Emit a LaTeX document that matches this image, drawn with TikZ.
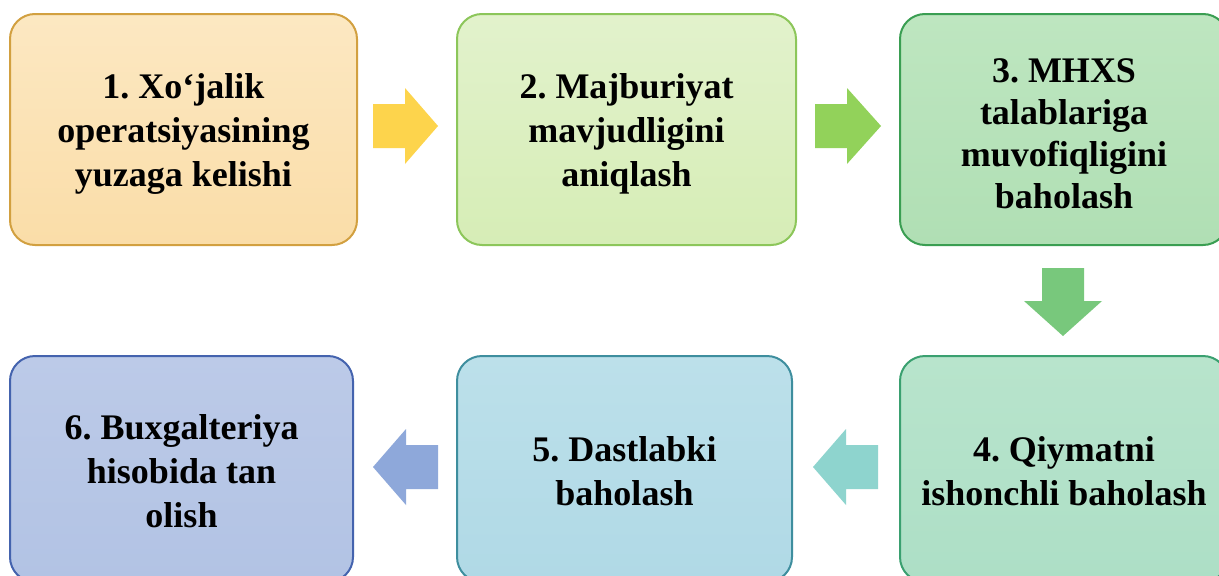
\documentclass[tikz,border=0pt]{standalone}
\usepackage{fontspec}
\setmainfont{Liberation Serif}
\frenchspacing
\definecolor{f1t}{HTML}{FCE8C2}\definecolor{f1b}{HTML}{FADDA8}\definecolor{d1}{HTML}{D2A040}
\definecolor{f2t}{HTML}{E2F2CC}\definecolor{f2b}{HTML}{D6EDB6}\definecolor{d2}{HTML}{8CC65A}
\definecolor{f3t}{HTML}{BEE6C0}\definecolor{f3b}{HTML}{B0DFB4}\definecolor{d3}{HTML}{3A9E52}
\definecolor{f4t}{HTML}{B8E4CC}\definecolor{f4b}{HTML}{ADDFC6}\definecolor{d4}{HTML}{3AA070}
\definecolor{f5t}{HTML}{BCE0EA}\definecolor{f5b}{HTML}{B0D9E6}\definecolor{d5}{HTML}{3E8E9E}
\definecolor{f6t}{HTML}{BCCAE8}\definecolor{f6b}{HTML}{B2C3E4}\definecolor{d6}{HTML}{4463AE}
\definecolor{a1}{HTML}{FDD44C}\definecolor{a2}{HTML}{92D25A}\definecolor{a3}{HTML}{78C87C}
\definecolor{a4}{HTML}{8ED4CE}\definecolor{a5}{HTML}{8EA8DA}
\begin{document}
\begin{tikzpicture}[x=1pt,y=-1pt,
  stepbox/.style={draw, line width=2pt, rounded corners=25pt, inner sep=0pt, anchor=center},
  steptext/.style={align=center, font=\fontsize{36}{44}\selectfont\bfseries, inner sep=0pt, anchor=center}]
\useasboundingbox (0,0) rectangle (1219,576);
\fill[white] (0,0) rectangle (1219,576);
% boxes
\node[stepbox, draw=d1, top color=f1t, bottom color=f1b, minimum width=347pt, minimum height=231pt] (b1) at (183.5,129.5) {};
\node[stepbox, draw=d2, top color=f2t, bottom color=f2b, minimum width=339pt, minimum height=231pt] (b2) at (626.5,129.5) {};
\node[stepbox, draw=d3, top color=f3t, bottom color=f3b, minimum width=328pt, minimum height=231pt] (b3) at (1064,129.5) {};
\node[stepbox, draw=d4, top color=f4t, bottom color=f4b, minimum width=328pt, minimum height=226pt] (b4) at (1064,469) {};
\node[stepbox, draw=d5, top color=f5t, bottom color=f5b, minimum width=335pt, minimum height=226pt] (b5) at (624.5,469) {};
\node[stepbox, draw=d6, top color=f6t, bottom color=f6b, minimum width=343pt, minimum height=226pt] (b6) at (181.5,469) {};
% texts
\node[steptext] (t1) at ([yshift=-4pt]b1.center) {1. Xo‘jalik\\operatsiyasining\\yuzaga kelishi};
\node[steptext] (t2) at ([yshift=-4pt]b2.center) {2. Majburiyat\\mavjudligini\\aniqlash};
\node[steptext, font=\fontsize{36}{42}\selectfont\bfseries] (t3) at ([yshift=-4pt]b3.center) {3. MHXS\\talablariga\\muvofiqligini\\baholash};
\node[steptext] (t4) at ([yshift=-2pt]b4.center) {4. Qiymatni\\ishonchli baholash};
\node[steptext] (t5) at ([yshift=-2pt]b5.center) {5. Dastlabki\\baholash};
\node[steptext] (t6) at ([yshift=-2pt]b6.center) {6. Buxgalteriya\\hisobida tan\\olish};
% block arrows
\coordinate (r1) at (373,126);
\fill[a1] (r1) ++(0,-22) -- ++(32,0) -- ++(0,-16) -- ++(33,38) -- ++(-33,38) -- ++(0,-16) -- ++(-32,0) -- cycle;
\coordinate (r2) at (815,126);
\fill[a2] (r2) ++(0,-22) -- ++(32,0) -- ++(0,-16) -- ++(34,38) -- ++(-34,38) -- ++(0,-16) -- ++(-32,0) -- cycle;
\coordinate (d) at (1063,268);
\fill[a3] (d) ++(-21,0) -- ++(42,0) -- ++(0,33) -- ++(18,0) -- ++(-39,35) -- ++(-39,-35) -- ++(18,0) -- cycle;
\coordinate (l1) at (878,467);
\fill[a4] (l1) ++(0,-22) -- ++(-32,0) -- ++(0,-16) -- ++(-33,38) -- ++(33,38) -- ++(0,-16) -- ++(32,0) -- cycle;
\coordinate (l2) at (438,467);
\fill[a5] (l2) ++(0,-22) -- ++(-32,0) -- ++(0,-16) -- ++(-33,38) -- ++(33,38) -- ++(0,-16) -- ++(32,0) -- cycle;
\end{tikzpicture}
\end{document}
